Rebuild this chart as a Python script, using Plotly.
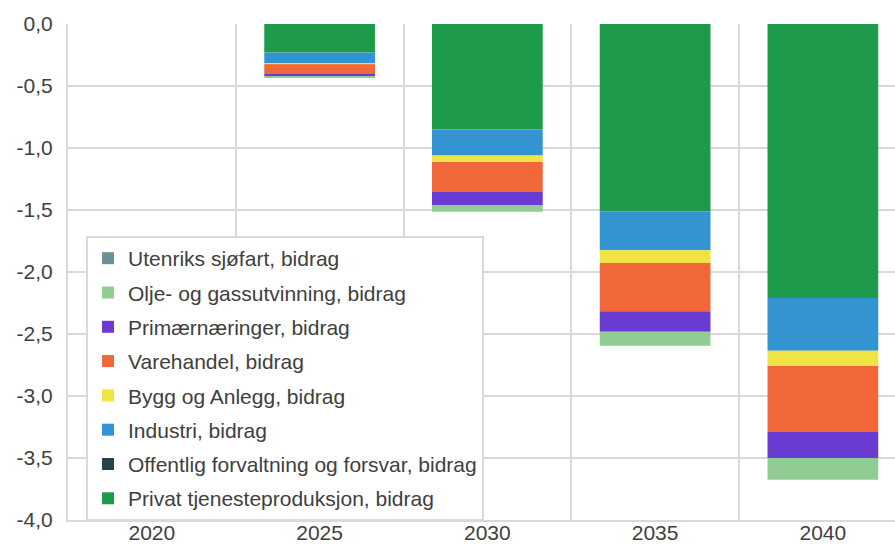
import plotly.graph_objects as go

# Years on the category axis
years = ["2020", "2025", "2030", "2035", "2040"]

# Contributions per sector (percentage points), stacked downward from zero
privat_tjeneste = [0.0, -0.23, -0.85, -1.51, -2.21]
offentlig = [0.0, 0.0, 0.0, 0.0, 0.0]
industri = [0.0, -0.09, -0.21, -0.315, -0.425]
bygg_anlegg = [0.0, -0.005, -0.052, -0.102, -0.124]
varehandel = [0.0, -0.08, -0.242, -0.39, -0.532]
primaer = [0.0, -0.016, -0.105, -0.164, -0.21]
olje_gass = [0.0, -0.014, -0.056, -0.113, -0.175]
utenriks = [0.0, 0.0, 0.0, 0.0, 0.0]

# Y-axis tick values and their labels (comma decimals, hyphen minus)
y_tickvals = [0.0, -0.5, -1.0, -1.5, -2.0, -2.5, -3.0, -3.5, -4.0]
y_ticktext = ["0,0", "-0,5", "-1,0", "-1,5", "-2,0", "-2,5", "-3,0", "-3,5", "-4,0"]

series = [
    ("Privat tjenesteproduksjon, bidrag", privat_tjeneste, "#1e9b4a"),
    ("Offentlig forvaltning og forsvar, bidrag", offentlig, "#27434a"),
    ("Industri, bidrag", industri, "#3493d1"),
    ("Bygg og Anlegg, bidrag", bygg_anlegg, "#f0e442"),
    ("Varehandel, bidrag", varehandel, "#f26739"),
    ("Primærnæringer, bidrag", primaer, "#6a3bd0"),
    ("Olje- og gassutvinning, bidrag", olje_gass, "#91cc92"),
    ("Utenriks sjøfart, bidrag", utenriks, "#6d9097"),
]

fig = go.Figure()
n = len(series)
for i, (name, vals, color) in enumerate(series):
    fig.add_trace(go.Bar(
        x=years, y=vals, name=name, legendgroup=f"g{i}",
        legendrank=n - i,
        marker=dict(color=color, line=dict(width=0)),
    ))

GRID = "#d9d9d9"
TEXT = "#404040"
FONT = "Liberation Sans, Arial, sans-serif"
FS = 21

fig.update_layout(
    width=895, height=544,
    margin=dict(l=68, r=0, t=24, b=24),
    paper_bgcolor="white", plot_bgcolor="white",
    barmode="relative", bargap=0.34,
    font=dict(family=FONT, size=FS, color=TEXT),
    showlegend=True,
    legend=dict(
        x=0.0218, y=0.5725, xanchor="left", yanchor="top",
        bgcolor="white", bordercolor=GRID, borderwidth=2,
        traceorder="grouped", tracegroupgap=4,
        font=dict(family=FONT, size=FS, color=TEXT),
        itemwidth=30,
    ),
    xaxis=dict(
        type="category", range=[-0.5, 4.43],
        tickson="boundaries", showgrid=True, gridcolor=GRID, gridwidth=2,
        showline=True, linecolor=GRID, linewidth=2,
        ticks="", tickfont=dict(size=FS, color=TEXT), automargin=False,
        ticklabelstandoff=-7,
    ),
    yaxis=dict(
        range=[-4.0, 0.0], tickvals=y_tickvals, ticktext=y_ticktext,
        showgrid=True, gridcolor=GRID, gridwidth=2, zeroline=False,
        showline=True, linecolor=GRID, linewidth=2,
        ticks="", ticklabelstandoff=9, tickfont=dict(size=FS, color=TEXT),
        automargin=False,
    ),
)

fig.write_html("out.html")
